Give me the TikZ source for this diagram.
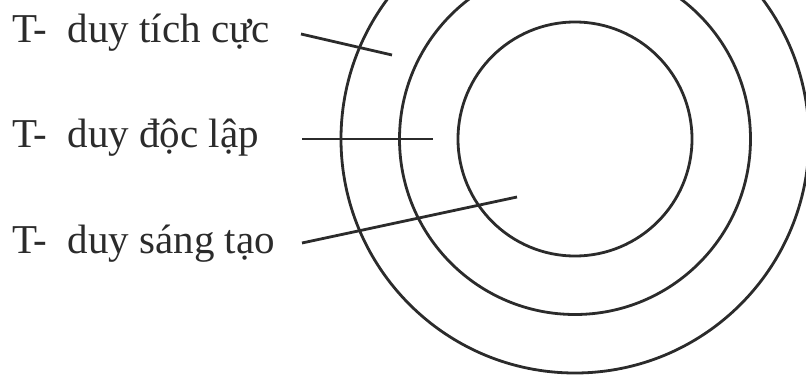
\documentclass[tikz,border=0pt]{standalone}
\usepackage{fontspec}
\setmainfont{Liberation Serif}
\definecolor{ink}{HTML}{2B2B2B}
\begin{document}
\begin{tikzpicture}[x=1pt,y=-1pt,
  lbl/.style={anchor=base west, inner sep=0pt, font=\fontsize{41}{45}\selectfont, text=ink},
  ring/.style={draw=ink, line width=2.8pt},
  lead/.style={draw=ink, line width=2.8pt}]
\useasboundingbox (0,0) rectangle (806,377);
\clip (0,0) rectangle (806,377);
\coordinate (c) at (575,139);
\draw[ring] (c) circle[radius=117];
\draw[ring] (c) circle[radius=175.5];
\draw[ring] (c) circle[radius=234];
\node[lbl] (t1) at (12,43) {T-\ \ duy tích cực};
\node[lbl] (t2) at (12,148) {T-\ \ duy độc lập};
\node[lbl] (t3) at (12,253) {T-\ \ duy sáng tạo};
\coordinate (a1) at (301,34);
\coordinate (b1) at (392,55);
\coordinate (a2) at (302,139);
\coordinate (b2) at (433,139);
\coordinate (a3) at (302,243);
\coordinate (b3) at (517,197);
\draw[lead] (a1) -- (b1);
\draw[lead] (a2) -- (b2);
\draw[lead] (a3) -- (b3);
\end{tikzpicture}
\end{document}
